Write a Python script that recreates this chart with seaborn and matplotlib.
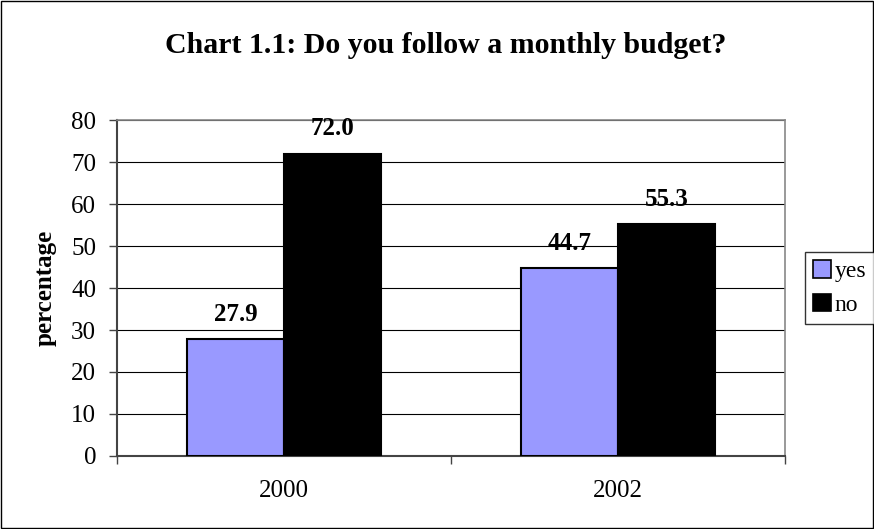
import matplotlib
matplotlib.use("Agg")
import matplotlib.pyplot as plt
from matplotlib.patches import Rectangle
import seaborn as sns
import pandas as pd

years = ["2000", "2002"]
answers = ["yes", "no"]
yes_values = [27.9, 44.7]
no_values = [72.0, 55.3]
y_ticks = [0, 10, 20, 30, 40, 50, 60, 70, 80]

df = pd.DataFrame({
    "year": years * 2,
    "answer": ["yes"] * len(years) + ["no"] * len(years),
    "value": yes_values + no_values,
})

sns.set_theme(style="white")
plt.rcParams["font.family"] = ["Liberation Serif", "DejaVu Serif"]
plt.rcParams.update({"text.color": "black", "axes.labelcolor": "black",
                     "xtick.color": "black", "ytick.color": "black"})

fig = plt.figure(figsize=(8.74, 5.29), dpi=100)
ax = fig.add_axes([117 / 874, 1 - 456 / 529, (785 - 117) / 874, (456 - 120) / 529])

palette = {"yes": "#9999ff", "no": "#000000"}
sns.barplot(data=df, x="year", y="value", hue="answer", hue_order=answers,
            palette=palette, width=0.58, edgecolor="black", linewidth=1.5,
            saturation=1, ax=ax, legend=False, zorder=3)

ax.set_ylim(0, 80)
ax.set_xlim(-0.5, 1.5)
ax.set_yticks(y_ticks)
ax.yaxis.grid(True, color="black", linewidth=0.8, zorder=0)
ax.set_axisbelow(True)

# value labels above bars
for container in ax.containers:
    ax.bar_label(container, fmt="%.1f", padding=9.5, fontsize=18, fontweight="bold")

for side in ["top", "right"]:
    ax.spines[side].set_color("#888888")
    ax.spines[side].set_linewidth(1.2)
for side in ["left", "bottom"]:
    ax.spines[side].set_color("#444444")
    ax.spines[side].set_linewidth(1.5)

ax.tick_params(axis="y", which="both", left=True, length=6, width=1, color="#444444",
               labelsize=18, pad=9)
ax.tick_params(axis="x", bottom=False, labelsize=18, pad=11.5)
ax.set_xticks([-0.5, 0.5, 1.5], minor=True)
ax.tick_params(axis="x", which="minor", bottom=True, length=6, width=1, color="#444444")

ax.set_xlabel("")
ax.set_ylabel("percentage", fontsize=18, fontweight="bold", labelpad=10.5)

fig.text(446 / 874, 1 - 53 / 529, "Chart 1.1: Do you follow a monthly budget?",
         ha="center", va="baseline", fontsize=21.5, fontweight="bold")

# legend box at right
handles = [Rectangle((0, 0), 1, 1, facecolor=palette[a], edgecolor="black", linewidth=1.2)
           for a in answers]
leg = fig.legend(handles, answers, loc="upper left",
                 bbox_to_anchor=(805 / 874, 1 - 252 / 529), frameon=True, fancybox=False,
                 fontsize=17, handlelength=0.76, handleheight=0.76, handletextpad=0.15,
                 borderpad=0.35, labelspacing=0.5, borderaxespad=0)
leg.get_frame().set_edgecolor("black")
leg.get_frame().set_linewidth(1)

# outer chart border
fig.patches.append(Rectangle((0.0015, 0.002), 0.997, 0.996, transform=fig.transFigure,
                             fill=False, edgecolor="black", linewidth=1))

fig.savefig("out.png", dpi=100)
